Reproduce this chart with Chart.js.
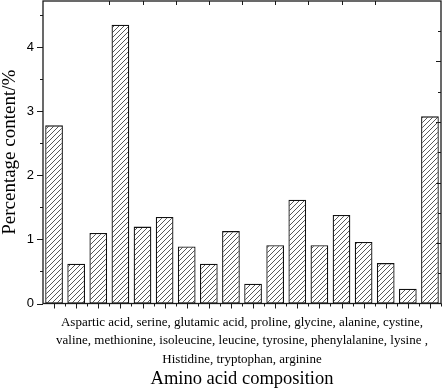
<!DOCTYPE html>
<html>
<head>
<meta charset="utf-8">
<script src="https://cdn.jsdelivr.net/npm/chart.js@4.4.1/dist/chart.umd.min.js"></script>
<style>
    html, body { margin: 0; padding: 0; background: #fff; }
    #contenedor { width: 442px; height: 388px; }
</style>
</head>
<body>
<div id="contenedor"><canvas id="grafico"></canvas></div>
<script>
// Datos (18 barras)
const categories = ['1', '2', '3', '4', '5', '6', '7', '8', '9', '10', '11', '12', '13', '14', '15', '16', '17', '18'];
const contentValues = [2.78, 0.62, 1.10, 4.35, 1.20, 1.35, 0.89, 0.62, 1.13, 0.31, 0.91, 1.62, 0.91, 1.38, 0.96, 0.63, 0.23, 2.92];
const yTickValues = [0, 1, 2, 3, 4];
const yMinorTicks = [0.5, 1.5, 2.5, 3.5, 4.5];
const compositionLines = [
    'Aspartic acid, serine, glutamic acid, proline, glycine, alanine, cystine,',
    'valine, methionine, isoleucine, leucine, tyrosine, phenylalanine, lysine ,',
    'Histidine, tryptophan, arginine'
];
const yTitle = 'Percentage content/%';
const xTitle = 'Amino acid composition';

const ctx = document.getElementById('grafico').getContext('2d');

// Trama de rayas diagonales para las barras
function crearTrama() {
    const t = 5;
    const c = document.createElement('canvas');
    c.width = t; c.height = t;
    const g = c.getContext('2d');
    g.fillStyle = '#fff';
    g.fillRect(0, 0, t, t);
    g.strokeStyle = '#3a3a3a';
    g.lineWidth = 0.85;
    g.beginPath();
    g.moveTo(0, t); g.lineTo(t, 0);
    g.moveTo(-1, 1); g.lineTo(1, -1);
    g.moveTo(t - 1, t + 1); g.lineTo(t + 1, t - 1);
    g.stroke();
    return ctx.createPattern(c, 'repeat');
}

// Marco y marcas de los ejes
const marcoPlugin = {
    id: 'marco',
    afterDatasetsDraw(chart) {
        const { ctx, chartArea: a, scales } = chart;
        ctx.save();
        ctx.strokeStyle = '#1a1a1a';
        ctx.lineWidth = 1;
        ctx.beginPath();
        // eje izquierdo, hacia fuera
        yTickValues.forEach(v => {
            const py = Math.round(scales.y.getPixelForValue(v)) + 0.5;
            ctx.moveTo(a.left - 6, py); ctx.lineTo(a.left, py);
        });
        yMinorTicks.forEach(v => {
            const py = Math.round(scales.y.getPixelForValue(v)) + 0.5;
            ctx.moveTo(a.left - 3, py); ctx.lineTo(a.left, py);
        });
        // eje inferior, hacia fuera
        const ancho = (a.right - a.left) / categories.length;
        categories.forEach((c, i) => {
            const px = Math.round(scales.x.getPixelForValue(i)) + 0.5;
            ctx.moveTo(px, a.bottom); ctx.lineTo(px, a.bottom + 5);
            const pb = Math.round(scales.x.getPixelForValue(i) + ancho / 2) + 0.5;
            ctx.moveTo(pb, a.bottom); ctx.lineTo(pb, a.bottom + 3);
        });
        // ejes opuestos, hacia dentro
        for (let k = 1; k < 10; k++) {
            const px = Math.round(scales.x2.getPixelForValue(k)) + 0.5;
            ctx.moveTo(px, a.top); ctx.lineTo(px, a.top + 4);
            const py = Math.round(scales.y2.getPixelForValue(k)) + 0.5;
            const len = k % 2 === 0 ? 5 : 3;
            ctx.moveTo(a.right, py); ctx.lineTo(a.right - len, py);
        }
        ctx.stroke();
        ctx.lineWidth = 1.3;
        ctx.strokeRect(a.left, a.top, a.right - a.left, a.bottom - a.top);
        ctx.restore();
    }
};

new Chart(ctx, {
    type: 'bar',
    data: {
        labels: categories,
        datasets: [{
            data: contentValues,
            xAxisID: 'x',
            yAxisID: 'y',
            backgroundColor: crearTrama(),
            borderColor: '#111',
            borderWidth: 1.3,
            borderSkipped: false,
            barPercentage: 0.8,
            categoryPercentage: 1
        }]
    },
    options: {
        responsive: true,
        maintainAspectRatio: false,
        animation: false,
        layout: { padding: { top: 1, right: 1, left: 0, bottom: 0 } },
        plugins: {
            legend: { display: false },
            tooltip: { enabled: false },
            title: {
                display: true,
                position: 'bottom',
                fullSize: false,
                text: xTitle,
                color: '#000',
                font: { family: 'Liberation Serif', size: 18.5, weight: 'normal', lineHeight: 1 },
                padding: { top: 0, bottom: 0 }
            }
        },
        scales: {
            x: {
                grid: { display: false, drawTicks: false },
                border: { display: false },
                ticks: { display: false },
                title: {
                    display: true,
                    text: compositionLines,
                    color: '#000',
                    font: { family: 'Liberation Serif', size: 13, lineHeight: 1.42 },
                    padding: { top: 0, bottom: 1 }
                },
                afterFit(s) { s.height = 66; s.paddingLeft = 0; s.paddingRight = 0; }
            },
            y: {
                min: 0,
                max: 4.72,
                grid: { display: false, drawTicks: false },
                border: { display: false },
                afterBuildTicks(s) { s.ticks = yTickValues.map(v => ({ value: v })); },
                ticks: {
                    padding: 9,
                    color: '#000',
                    font: { family: 'Liberation Sans', size: 13 }
                },
                title: {
                    display: true,
                    text: yTitle,
                    color: '#000',
                    font: { family: 'Liberation Serif', size: 19, lineHeight: 1 },
                    padding: { top: 1, bottom: 0 }
                },
                afterFit(s) { s.width = 43; s.paddingTop = 0; s.paddingBottom = 0; }
            },
            x2: { type: 'linear', position: 'top', display: false, min: 0, max: 10 },
            y2: { type: 'linear', position: 'right', display: false, min: 0, max: 10 }
        }
    },
    plugins: [marcoPlugin]
});
</script>
</body>
</html>
